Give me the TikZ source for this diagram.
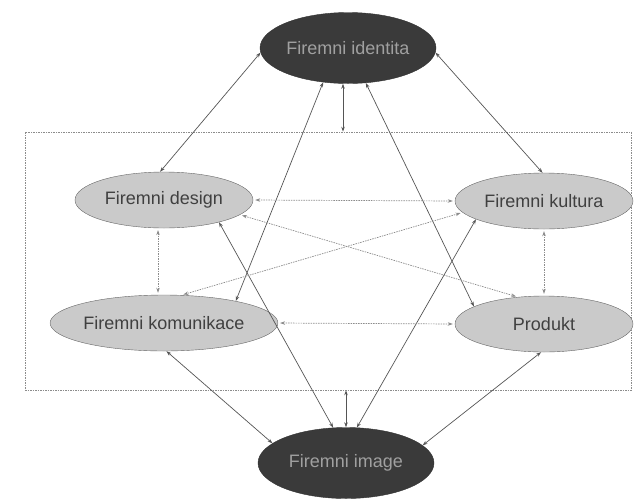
\documentclass[tikz,border=0pt]{standalone}
\usepackage{fontspec}
\setmainfont{Liberation Sans}
\usetikzlibrary{arrows.meta,shapes.geometric}
\definecolor{darkfill}{HTML}{3A3A3A}
\definecolor{darktext}{HTML}{A0A0A0}
\definecolor{innerfill}{HTML}{CACACA}
\definecolor{linegray}{HTML}{555555}
\definecolor{dotgray}{HTML}{8C8C8C}
\tikzset{
  outer/.style={ellipse, draw=black!80, fill=darkfill, text=darktext, inner sep=0pt,
    minimum width=176pt, minimum height=71pt},
  inner/.style={ellipse, draw=black!60, fill=innerfill, text=black!75, inner sep=0pt,
    minimum width=178pt, minimum height=56pt},
  link/.style={<->, draw=linegray, line width=0.7pt},
  soft/.style={<->, draw=dotgray, line width=0.7pt, dash pattern=on 1.5pt off 1pt,
    shorten <=2pt, shorten >=2pt},
}
\begin{document}
\begin{tikzpicture}[x=1pt, y=-1pt, >={Stealth[length=5pt,width=3.5pt]},
  font=\fontsize{18}{20}\selectfont]
  \useasboundingbox (0,0) rectangle (634,499);
  % dotted frame
  \node[draw=dotgray, line width=0.7pt, dash pattern=on 1.5pt off 1pt, minimum width=606pt,
    minimum height=258pt, inner sep=0pt] (box) at (328,261) {};
  \node[outer] (identita) at (348,48) {Firemni identita};
  \node[outer] (image) at (346,463) {Firemni image};
  \node[inner] (design) at (164,200) {Firemni design};
  \node[inner] (kultura) at (544,201) {Firemni kultura};
  \node[inner] (komunikace) at (164,323) {Firemni komunikace};
  \node[inner] (produkt) at (544,324) {Produkt};
  \foreach \u/\v in {identita.183/design.98, identita.357/kultura.93,
    identita.234/komunikace.17, identita.297/produkt.166,
    design.338/image.110, kultura.195/image.73,
    komunikace.275/image.165, produkt.264/image.13}
    \draw[link] (\u) -- (\v);
  \foreach \u/\v in {design.east/kultura.west, komunikace.east/produkt.west,
    design.349/produkt.134, kultura.188/komunikace.58}
    \draw[soft] (\u) -- (\v);
  \draw[soft] (design.258) -- (design.258 |- komunikace.north);
  \draw[soft] (kultura.south) -- (produkt.north);
  \draw[link] ([xshift=-5pt]identita.south) -- ([xshift=-5pt]identita.south |- box.north);
  \draw[link] (image.north |- box.south) -- (image.north);
\end{tikzpicture}
\end{document}
